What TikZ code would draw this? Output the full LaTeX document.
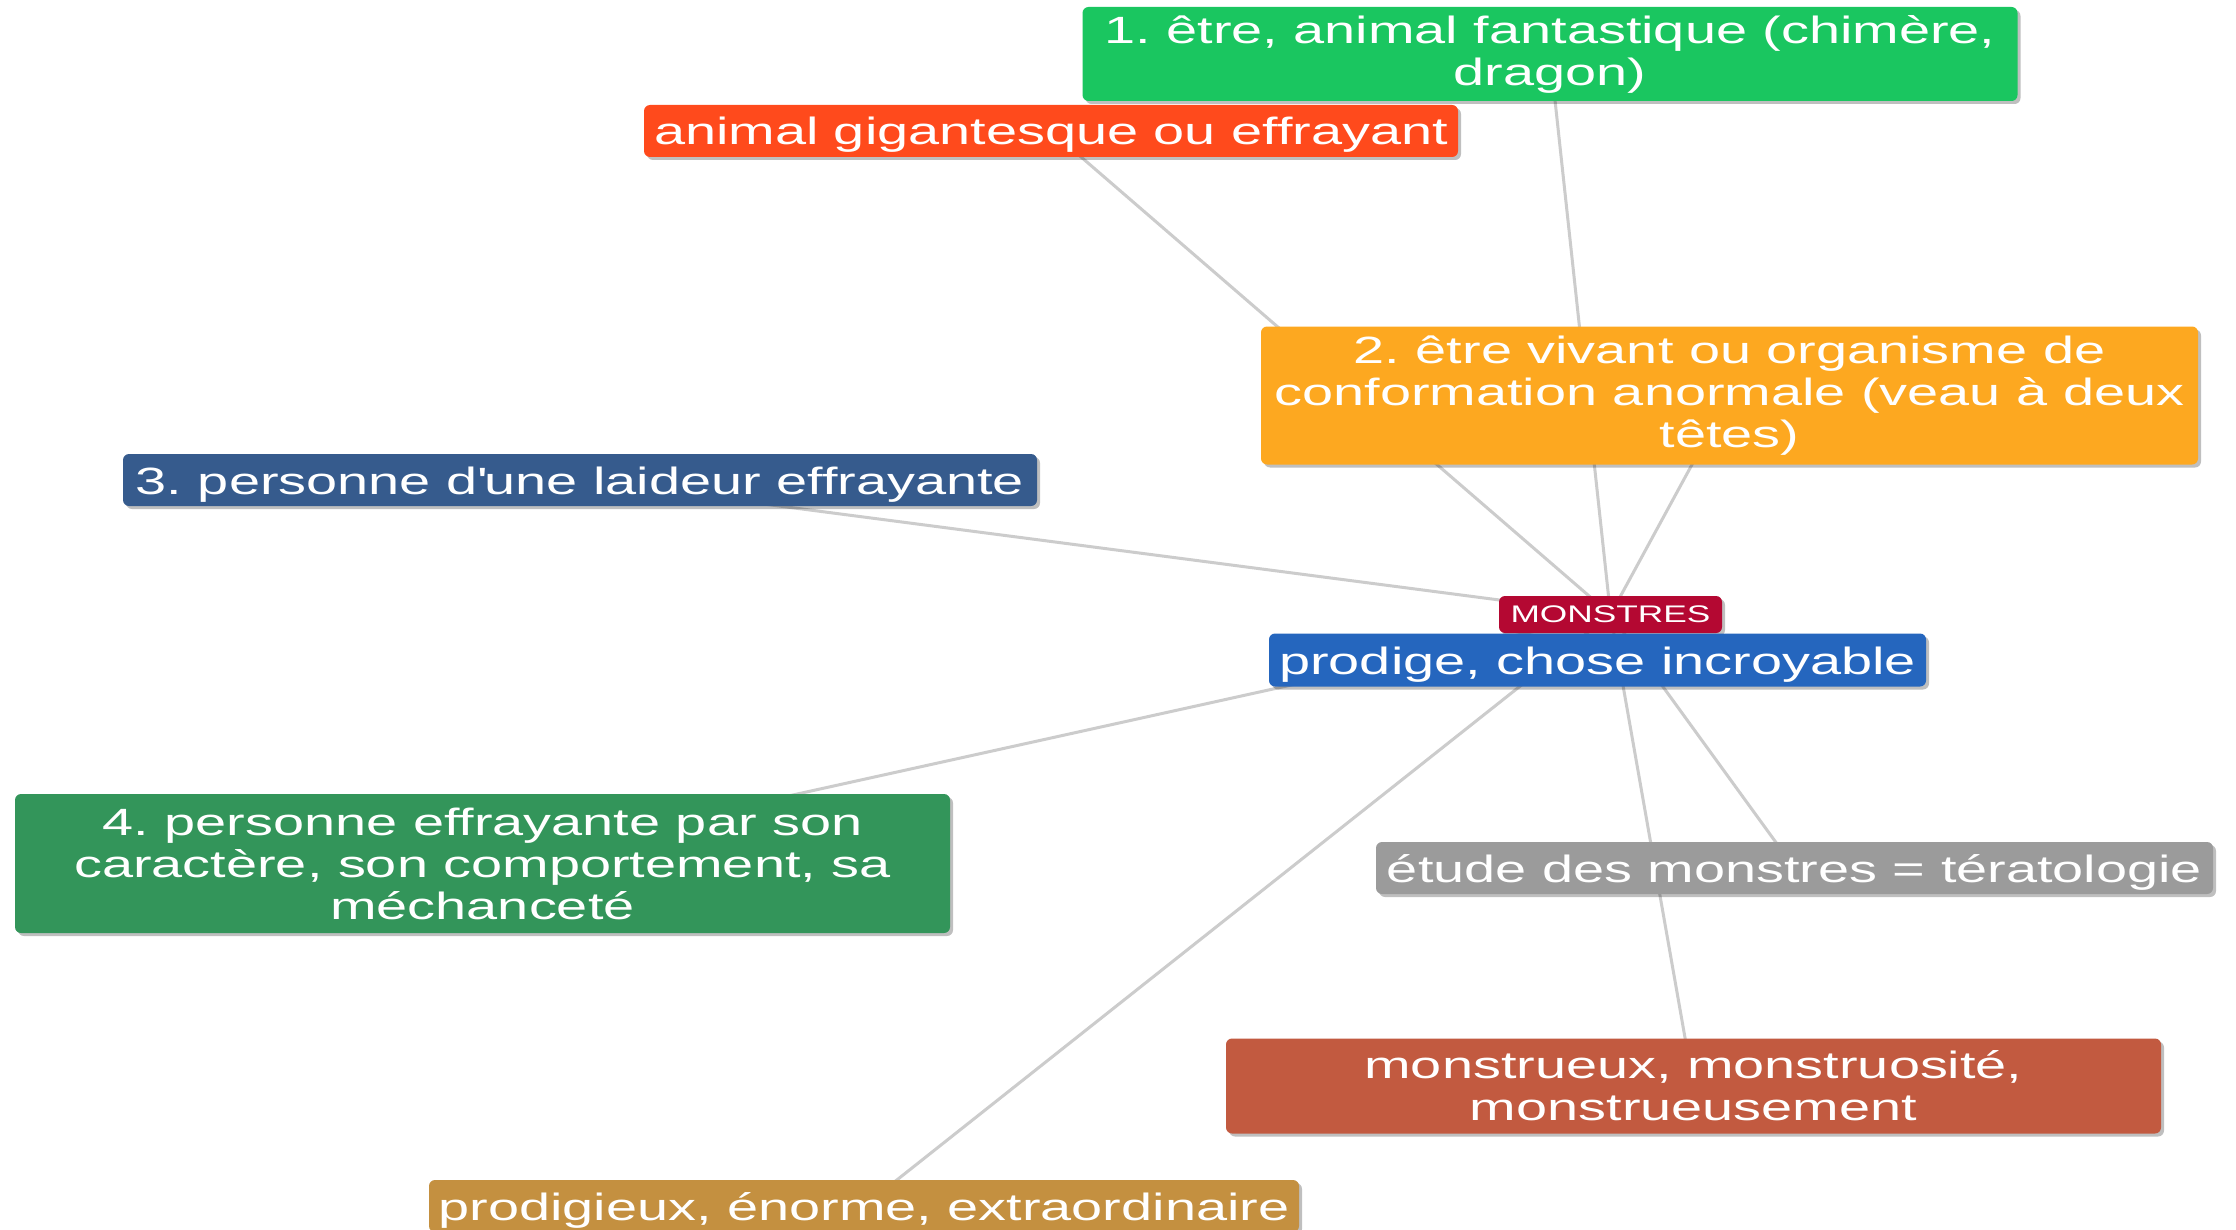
\documentclass[tikz,border=0pt]{standalone}
\usepackage{fontspec}
\setmainfont{Liberation Sans}[FakeStretch=1.47]
\usetikzlibrary{shadows,backgrounds}
\definecolor{cgreenA}{RGB}{26,198,96}
\definecolor{cred}{RGB}{255,74,28}
\definecolor{corange}{RGB}{253,168,32}
\definecolor{cblueA}{RGB}{54,91,141}
\definecolor{cmon}{RGB}{180,8,50}
\definecolor{cblueB}{RGB}{37,102,190}
\definecolor{cgreenB}{RGB}{51,149,90}
\definecolor{cgray}{RGB}{155,155,155}
\definecolor{cbrick}{RGB}{194,90,64}
\definecolor{ctan}{RGB}{196,144,64}
\definecolor{clink}{RGB}{204,204,204}
\tikzset{
  box/.style={rounded corners=3pt, inner sep=0pt, align=center, text=white,
    font=\frenchspacing\fontsize{19pt}{21pt}\selectfont,
    drop shadow={shadow xshift=1.5pt, shadow yshift=-1.5pt, opacity=0.25, fill=black}},
  onebox/.style={box,
    execute at begin node={\rule{0pt}{19pt}},
    execute at end node={\rule[-5pt]{0pt}{5pt}}},
  link/.style={draw=clink, line width=1.5pt}
}
\begin{document}
\begin{tikzpicture}[x=0.5pt,y=-0.5pt]
\useasboundingbox (0,0) rectangle (2236,1230);
\node[box, fill=cgreenA, minimum width=467.5pt, minimum height=47pt] (g1) at (1550,54) {1. être, animal fantastique (chimère,\\dragon)};
\node[onebox, fill=cred, minimum width=407pt, minimum height=26pt] (red) at (1051,131) {animal gigantesque ou effrayant};
\node[box, fill=corange, minimum width=468.5pt, minimum height=69pt] (org) at (1729.5,395.5) {2. être vivant ou organisme de\\conformation anormale (veau à deux\\têtes)};
\node[onebox, fill=cblueA, minimum width=457pt, minimum height=26pt] (b3) at (580,480) {3. personne d\textquotesingle une laideur effrayante};
\node[box, fill=cmon, minimum width=111.5pt, minimum height=18.5pt, font=\fontsize{12pt}{14pt}\selectfont] (mon) at (1610.5,614.5) {MONSTRES};
\node[onebox, fill=cblueB, minimum width=328.5pt, minimum height=26.5pt] (prod) at (1597.5,660) {prodige, chose incroyable};
\node[box, fill=cgreenB, minimum width=467.5pt, minimum height=69.5pt] (g4) at (482.5,863.5) {4. personne effrayante par son\\caractère, son comportement, sa\\méchanceté};
\node[onebox, fill=cgray, minimum width=418.5pt, minimum height=26pt] (etu) at (1794.5,868) {étude des monstres = tératologie};
\node[box, fill=cbrick, minimum width=467.5pt, minimum height=47.5pt] (bri) at (1693.5,1086) {monstrueux, monstruosité,\\monstrueusement};
\node[onebox, fill=ctan, minimum width=435pt, minimum height=26pt] (tan) at (864,1206) {prodigieux, énorme, extraordinaire};
\begin{pgfonlayer}{background}
\fill[white] (0,0) rectangle (2236,1230);
\foreach \n in {g1,red,org,b3,g4,etu,bri,tan}
  \draw[link] (\n.center) -- (mon.center);
\end{pgfonlayer}
\end{tikzpicture}
\end{document}
